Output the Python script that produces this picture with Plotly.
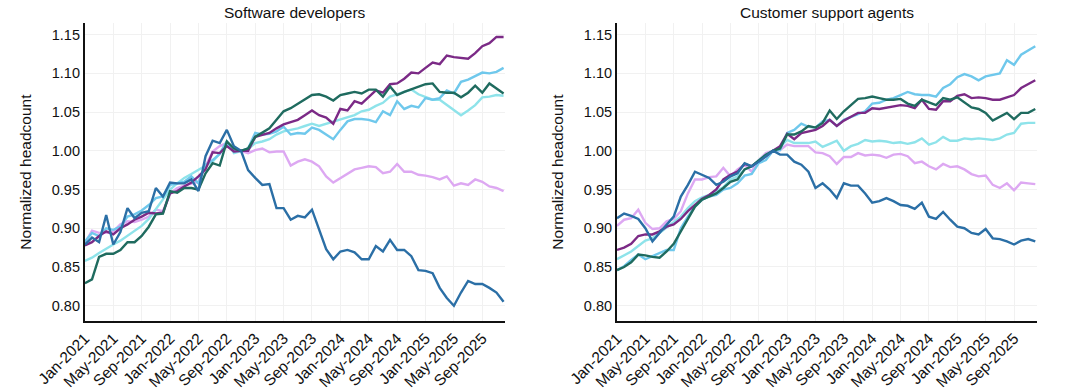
import pandas as pd
import plotly.graph_objects as go

# ---------------- data ----------------
month_labels = [d.strftime("%b-%Y") for d in pd.date_range("2021-01-01", periods=60, freq="MS")]
tick_idx = list(range(0, 60, 4))
tick_labels = [month_labels[i] for i in tick_idx]
y_ticks = [0.80, 0.85, 0.90, 0.95, 1.00, 1.05, 1.10, 1.15]

panel_titles = ["Software developers", "Customer support agents"]
series_names = ["Group 1", "Group 2", "Group 3", "Group 4", "Group 5", "Group 6"]

# Software developers
sw_g1 = [0.879, 0.888, 0.882, 0.917, 0.879, 0.895, 0.926, 0.913, 0.920, 0.922, 0.952, 0.941, 0.959, 0.958, 0.958, 0.963, 0.948, 0.993, 1.013, 1.010, 1.027,
         1.006, 1.000, 0.975, 0.965, 0.956, 0.957, 0.926, 0.926, 0.911, 0.916, 0.914, 0.924, 0.898, 0.873, 0.860, 0.870, 0.872, 0.869, 0.860, 0.860,
         0.877, 0.870, 0.885, 0.872, 0.872, 0.864, 0.846, 0.845, 0.842, 0.823, 0.810, 0.800, 0.817, 0.832, 0.828, 0.828, 0.823, 0.817, 0.805]
sw_g2 = [0.881, 0.897, 0.894, 0.894, 0.896, 0.905, 0.909, 0.908, 0.911, 0.915, 0.924, 0.922, 0.945, 0.952, 0.955, 0.958, 0.960, 0.980, 0.999, 1.006, 1.010,
         1.000, 1.000, 0.997, 1.001, 1.003, 0.998, 0.999, 0.999, 0.981, 0.986, 0.989, 0.986, 0.980, 0.967, 0.959, 0.965, 0.970, 0.976, 0.978, 0.980,
         0.979, 0.971, 0.973, 0.983, 0.973, 0.973, 0.969, 0.968, 0.966, 0.963, 0.967, 0.955, 0.958, 0.956, 0.963, 0.960, 0.954, 0.952, 0.948]
sw_g3 = [0.858, 0.862, 0.868, 0.874, 0.879, 0.884, 0.890, 0.896, 0.903, 0.912, 0.925, 0.937, 0.950, 0.958, 0.965, 0.970, 0.975, 0.980, 0.986, 0.996, 1.012,
         0.997, 1.000, 1.002, 1.010, 1.012, 1.015, 1.021, 1.025, 1.027, 1.029, 1.032, 1.035, 1.032, 1.035, 1.037, 1.040, 1.044, 1.046, 1.051, 1.053,
         1.058, 1.062, 1.070, 1.073, 1.075, 1.079, 1.073, 1.069, 1.066, 1.066, 1.059, 1.053, 1.046, 1.052, 1.059, 1.069, 1.070, 1.072, 1.071]
sw_g4 = [0.883, 0.894, 0.890, 0.900, 0.898, 0.902, 0.915, 0.918, 0.923, 0.930, 0.939, 0.941, 0.956, 0.958, 0.960, 0.967, 0.958, 0.982, 0.988, 0.996, 1.012,
         0.999, 1.000, 1.003, 1.023, 1.021, 1.022, 1.025, 1.031, 1.021, 1.023, 1.022, 1.030, 1.027, 1.021, 1.015, 1.027, 1.038, 1.041, 1.041, 1.040,
         1.037, 1.051, 1.046, 1.064, 1.054, 1.058, 1.056, 1.068, 1.066, 1.068, 1.078, 1.074, 1.089, 1.092, 1.097, 1.101, 1.100, 1.102, 1.107]
sw_g5 = [0.878, 0.882, 0.890, 0.896, 0.892, 0.900, 0.905, 0.911, 0.915, 0.920, 0.919, 0.920, 0.945, 0.948, 0.954, 0.959, 0.967, 0.976, 0.998, 0.997, 1.006,
         0.999, 1.000, 1.000, 1.018, 1.021, 1.023, 1.029, 1.034, 1.037, 1.040, 1.046, 1.052, 1.046, 1.043, 1.035, 1.054, 1.052, 1.064, 1.061, 1.069,
         1.078, 1.075, 1.086, 1.087, 1.093, 1.101, 1.100, 1.107, 1.114, 1.112, 1.123, 1.121, 1.120, 1.119, 1.126, 1.135, 1.139, 1.147, 1.147]
sw_g6 = [0.829, 0.834, 0.863, 0.867, 0.867, 0.872, 0.882, 0.882, 0.890, 0.902, 0.918, 0.919, 0.948, 0.946, 0.952, 0.952, 0.950, 0.971, 0.984, 0.981, 1.012,
         1.003, 1.000, 1.003, 1.018, 1.023, 1.029, 1.040, 1.051, 1.055, 1.061, 1.067, 1.072, 1.073, 1.070, 1.065, 1.072, 1.074, 1.076, 1.074, 1.079,
         1.079, 1.070, 1.083, 1.072, 1.076, 1.079, 1.083, 1.086, 1.087, 1.076, 1.075, 1.075, 1.069, 1.075, 1.084, 1.075, 1.087, 1.081, 1.074]

# Customer support agents
cs_g1 = [0.913, 0.919, 0.916, 0.912, 0.900, 0.883, 0.894, 0.905, 0.915, 0.941, 0.956, 0.973, 0.969, 0.965, 0.956, 0.960, 0.967, 0.971, 0.984, 0.980, 0.986,
         0.993, 1.000, 0.995, 0.995, 0.986, 0.982, 0.973, 0.952, 0.958, 0.950, 0.939, 0.958, 0.955, 0.955, 0.945, 0.933, 0.935, 0.939, 0.935, 0.930,
         0.929, 0.925, 0.933, 0.915, 0.912, 0.921, 0.911, 0.902, 0.900, 0.894, 0.892, 0.899, 0.887, 0.886, 0.883, 0.879, 0.884, 0.886, 0.883]
cs_g2 = [0.903, 0.911, 0.913, 0.924, 0.907, 0.899, 0.900, 0.909, 0.912, 0.922, 0.945, 0.963, 0.963, 0.966, 0.967, 0.978, 0.967, 0.976, 0.982, 0.973, 0.988,
         0.997, 1.000, 1.001, 1.008, 1.006, 1.006, 1.006, 0.998, 0.997, 0.993, 0.983, 0.992, 0.992, 0.997, 0.994, 0.995, 0.994, 0.991, 0.995, 0.996,
         0.993, 0.984, 0.986, 0.980, 0.976, 0.983, 0.979, 0.980, 0.976, 0.970, 0.967, 0.968, 0.956, 0.952, 0.958, 0.949, 0.959, 0.958, 0.957]
cs_g3 = [0.860, 0.865, 0.870, 0.877, 0.884, 0.887, 0.894, 0.902, 0.909, 0.915, 0.926, 0.935, 0.940, 0.943, 0.948, 0.953, 0.963, 0.967, 0.976, 0.980, 0.988,
         0.995, 1.000, 1.005, 1.014, 1.010, 1.010, 1.010, 1.012, 1.005, 1.009, 1.013, 1.000, 1.006, 1.009, 1.014, 1.012, 1.013, 1.012, 1.010, 1.011,
         1.009, 1.011, 1.016, 1.008, 1.011, 1.018, 1.013, 1.013, 1.016, 1.015, 1.016, 1.015, 1.014, 1.016, 1.021, 1.023, 1.035, 1.036, 1.036]
cs_g4 = [0.846, 0.851, 0.859, 0.866, 0.860, 0.864, 0.868, 0.872, 0.872, 0.900, 0.915, 0.928, 0.937, 0.941, 0.943, 0.950, 0.952, 0.958, 0.968, 0.970, 0.984,
         0.988, 1.000, 1.001, 1.023, 1.027, 1.035, 1.031, 1.030, 1.038, 1.040, 1.032, 1.040, 1.044, 1.047, 1.051, 1.061, 1.062, 1.066, 1.068, 1.072,
         1.076, 1.073, 1.072, 1.072, 1.070, 1.081, 1.086, 1.095, 1.099, 1.096, 1.091, 1.096, 1.098, 1.100, 1.117, 1.111, 1.124, 1.130, 1.135]
cs_g5 = [0.872, 0.875, 0.880, 0.890, 0.892, 0.892, 0.896, 0.902, 0.905, 0.912, 0.922, 0.930, 0.938, 0.943, 0.950, 0.963, 0.969, 0.973, 0.983, 0.980, 0.986,
         0.993, 1.000, 1.006, 1.022, 1.015, 1.023, 1.025, 1.027, 1.032, 1.040, 1.032, 1.039, 1.044, 1.049, 1.049, 1.055, 1.054, 1.056, 1.058, 1.059,
         1.058, 1.055, 1.066, 1.054, 1.053, 1.064, 1.064, 1.071, 1.073, 1.068, 1.069, 1.068, 1.066, 1.066, 1.069, 1.072, 1.081, 1.086, 1.091]
cs_g6 = [0.846, 0.850, 0.856, 0.866, 0.865, 0.863, 0.862, 0.870, 0.880, 0.896, 0.913, 0.928, 0.937, 0.941, 0.945, 0.952, 0.960, 0.963, 0.976, 0.980, 0.988,
         0.995, 1.000, 1.003, 1.021, 1.021, 1.025, 1.032, 1.030, 1.036, 1.052, 1.041, 1.051, 1.059, 1.067, 1.068, 1.070, 1.068, 1.066, 1.066, 1.067,
         1.061, 1.058, 1.066, 1.062, 1.059, 1.068, 1.066, 1.069, 1.062, 1.056, 1.054, 1.049, 1.039, 1.044, 1.049, 1.041, 1.049, 1.049, 1.054]

colors = ["#2b6fa6", "#dda8f2", "#8ee3ea", "#6fc8ec", "#7b2a86", "#1f6b5f"]
draw_order = [1, 2, 3, 4, 5, 0]  # dark blue on top

panels = [
    [sw_g1, sw_g2, sw_g3, sw_g4, sw_g5, sw_g6],
    [cs_g1, cs_g2, cs_g3, cs_g4, cs_g5, cs_g6],
]

# ---------------- figure ----------------
W, H = 1080, 392
FONT = "Liberation Sans, Arial, sans-serif"
x_idx = list(range(60))

fig = go.Figure()
for p, series in enumerate(panels):
    xa = "x" if p == 0 else "x2"
    ya = "y" if p == 0 else "y2"
    for k in draw_order:
        fig.add_trace(go.Scatter(
            x=x_idx, y=series[k], mode="lines", name=series_names[k],
            line=dict(color=colors[k], width=2.4),
            xaxis=xa, yaxis=ya, showlegend=False,
            customdata=month_labels,
            hovertemplate="%{customdata}: %{y:.3f}<extra></extra>",
        ))

x_domains = [[84.9 / W, 505.0 / W], [617.0 / W, 1036.7 / W]]
y_domain = [1 - 321.2 / H, 1 - 23.0 / H]

common_x = dict(
    range=[0, 59.2], tickmode="array", tickvals=tick_idx, ticktext=tick_labels,
    tickangle=-45, showgrid=True, gridcolor="#f1f1f1", gridwidth=1,
    showline=True, linecolor="#111111", linewidth=2, zeroline=False,
    ticks="", tickfont=dict(family=FONT, size=15.5, color="#111111"),
    automargin=False, fixedrange=True,
)
common_y = dict(
    range=[0.78, 1.165], tickmode="array", tickvals=y_ticks,
    ticktext=[f"{v:.2f}" for v in y_ticks],
    showgrid=True, gridcolor="#f1f1f1", gridwidth=1,
    showline=True, linecolor="#111111", linewidth=2, zeroline=False,
    ticks="", tickfont=dict(family=FONT, size=14.5, color="#111111"),
    title=dict(text="Normalized headcount", font=dict(family=FONT, size=15.5, color="#111111"), standoff=16),
    automargin=False, fixedrange=True, domain=y_domain,
)

fig.update_layout(
    width=W, height=H,
    margin=dict(l=0, r=0, t=0, b=0),
    paper_bgcolor="white", plot_bgcolor="white",
    font=dict(family=FONT, color="#111111"),
    xaxis=dict(common_x, domain=x_domains[0], anchor="y"),
    yaxis=dict(common_y, anchor="x"),
    xaxis2=dict(common_x, domain=x_domains[1], anchor="y2"),
    yaxis2=dict(common_y, anchor="x2"),
    showlegend=False,
)

for p, title in enumerate(panel_titles):
    fig.add_annotation(
        text=title, xref="paper", yref="paper",
        x=sum(x_domains[p]) / 2, y=1 - 12.5 / H,
        xanchor="center", yanchor="middle", showarrow=False,
        font=dict(family=FONT, size=15.5, color="#111111"),
    )

fig.write_html("out.html")
